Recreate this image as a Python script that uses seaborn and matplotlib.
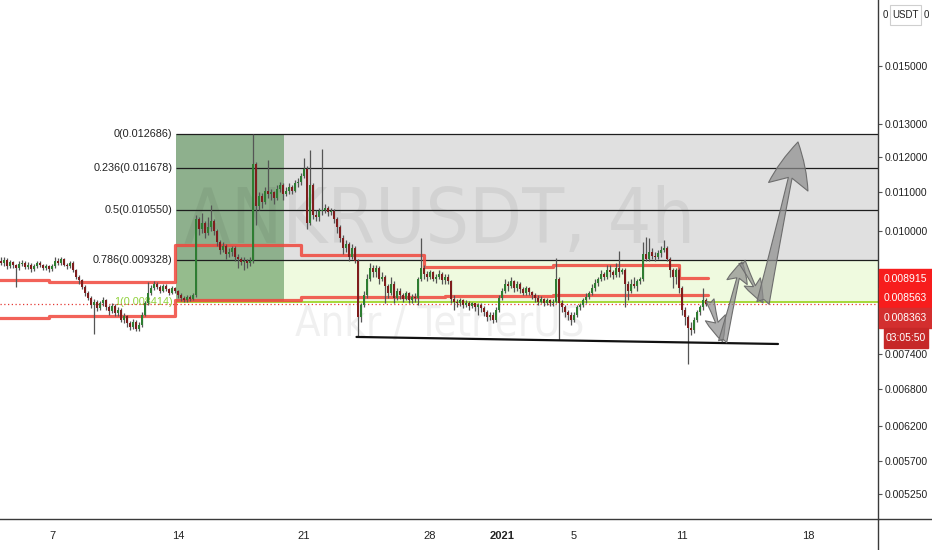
import numpy as np
import pandas as pd
import matplotlib
matplotlib.use("Agg")
import matplotlib.pyplot as plt
import matplotlib.dates as mdates
from matplotlib.patches import Rectangle, FancyArrowPatch
from matplotlib.lines import Line2D
from matplotlib.ticker import NullLocator, NullFormatter
import seaborn as sns

# ---------------- data ----------------
PRICE_UNIT = 1e-6  # candle values are written in micro-USDT
candle_start = "2020-12-04 04:00"   # 4h candles

opens = [9300, 9250, 9320, 9180, 9280, 9200, 9150,
         9230, 9260, 9170, 9220, 9120, 9180, 9250, 9200, 9140, 9190,
         9110, 9180, 9300, 9250, 9340, 9220, 9180, 9260,
         9100, 8950, 8870, 8720,
         8600, 8500, 8350, 8420, 8280, 8380, 8450, 8300,
         8220, 8330, 8180, 8250, 8050, 8120, 7980, 7920, 8010, 7880,
         7950, 8150, 8380, 8600,
         8700, 8800, 8720, 8650, 8750, 8680, 8600, 8700,
         8640, 8560, 8500, 8450, 8520, 8480,
         8550,
         10300, 10050, 10200, 9950, 10100, 10250,
         10000, 9750, 9550, 9650, 9450, 9500, 9600,
         9400, 9350, 9280, 9300, 9250,
         9300, 11800,
         10650, 10900, 10750, 11050, 10950, 11000, 10850, 11100, 11200, 10950,
         11050, 11150, 11050, 11250, 11300, 11450,
         11650, 10200, 11200,
         10400, 10350, 10500, 10550, 10600, 10480,
         10520, 10300, 10100, 9850, 9600, 9700,
         9400, 9600, 9300, 8100, 8350,
         8550, 8900, 9150,
         9050, 9150, 8900, 8950,
         8750, 8600, 8800, 8500,
         8650, 8550, 8480, 8600, 8450, 8520,
         8500, 8900,
         9150, 9000, 8950, 9050, 8900, 8950, 9000, 8880, 8950,
         8850,
         8480, 8420, 8380, 8450, 8350, 8400, 8320, 8380, 8300, 8350,
         8280, 8200, 8100, 8150,
         8050, 8250, 8500, 8650,
         8800, 8750, 8850, 8700, 8800,
         8680, 8600, 8700,
         8620, 8550, 8500, 8420, 8480, 8400, 8450, 8380,
         8420,
         8900, 8400, 8300, 8200, 8150, 8050,
         8150, 8300, 8350, 8450, 8520, 8600, 8700, 8820,
         8900, 9000, 8950, 9100, 9050, 8980, 9150, 9050,
         9100, 8800,
         8650, 8800, 8750, 8850,
         8900, 9450, 9350, 9500, 9420, 9380, 9480, 9550,
         9600, 9350, 9100,
         8950, 9100,
         8700, 8250, 8100, 7900,
         7850, 8050, 8200,
         8300, 8450]

highs = [9380, 9400, 9360, 9330, 9310, 9240, 9290,
         9330, 9300, 9280, 9250, 9230, 9310, 9290, 9230, 9240, 9220,
         9230, 9380, 9360, 9400, 9370, 9260, 9310, 9290,
         9130, 8990, 8900, 8760,
         8650, 8540, 8470, 8460, 8430, 8520, 8480, 8340,
         8390, 8360, 8300, 8280, 8180, 8150, 8020, 8060, 8040, 8000,
         8200, 8430, 8840, 8760,
         8860, 8840, 8760, 8800, 8790, 8710, 8750, 8730,
         8670, 8600, 8540, 8560, 8560, 8600,
         10400,
         10350, 10450, 10250, 10350, 10670, 10300,
         10050, 9800, 9750, 9700, 9600, 9650, 9650,
         9450, 9400, 9380, 9350, 9400,
         12686, 11850,
         11000, 10980, 11150, 11906, 11100, 11050, 11200, 11300, 11250, 11150,
         11250, 11200, 11350, 11400, 11550, 11980,
         11750, 12200, 11250,
         10550, 10600, 12250, 10700, 10650, 10600,
         10560, 10350, 10150, 9900, 9800, 9750,
         9700, 9650, 9350, 8400, 8650,
         9000, 9250, 9200,
         9200, 9180, 9050, 8980,
         8800, 8950, 8850, 8700,
         8700, 8600, 8650, 8620, 8580, 8600,
         8950, 9845,
         9200, 9080, 9100, 9080, 9000, 9100, 9050, 9000, 9000,
         8880,
         8550, 8480, 8500, 8480, 8450, 8430, 8420, 8400, 8400, 8380,
         8320, 8250, 8200, 8200,
         8300, 8550, 8700, 8900,
         8850, 8950, 8880, 8850, 8830,
         8720, 8750, 8730,
         8650, 8600, 8550, 8530, 8500, 8500, 8480, 8470,
         9376,
         8950, 8450, 8350, 8250, 8200, 8200,
         8350, 8400, 8500, 8600, 8650, 8800, 8900, 8950,
         9100, 9050, 9200, 9200, 9100, 9250, 9537, 9150,
         9150, 8850,
         8900, 8950, 8900, 8950,
         9750, 9870, 9850, 9600, 9500, 9550, 9650, 9800,
         9650, 9400, 9150,
         9150, 9150,
         8750, 8300, 8150, 8000,
         8100, 8250, 8350,
         8714, 8500]

lows = [9200, 9180, 9120, 9150, 9140, 8735, 9100,
        9190, 9120, 9130, 9060, 9080, 9150, 9160, 9090, 9100, 9050,
        9070, 9150, 9200, 9210, 9180, 9120, 9140, 9050,
        8900, 8800, 8680, 8540,
        8450, 8280, 7770, 8220, 8240, 8330, 8240, 8150,
        8180, 8120, 8130, 8000, 7990, 7920, 7860, 7880, 7830, 7840,
        7920, 8120, 8350, 8560,
        8660, 8680, 8600, 8620, 8640, 8560, 8570, 8590,
        8500, 8440, 8414, 8420, 8430, 8450,
        8520,
        9900, 9950, 9850, 9900, 10000, 9900,
        9650, 9450, 9500, 9350, 9380, 9420, 9300,
        9150, 9200, 9100, 9150, 9180,
        9250, 10160,
        10550, 10600, 10700, 10850, 10800, 10700, 10800, 11000, 10800, 10900,
        10950, 10950, 11000, 11150, 11200, 11400,
        10050, 10150, 10300,
        10250, 10250, 10400, 10450, 10380, 10400,
        10200, 9950, 9750, 9450, 9500, 9300,
        9350, 9250, 7733, 8000, 8300,
        8500, 8850, 8950,
        8950, 8800, 8850, 8400,
        8500, 8550, 8380, 8450,
        8480, 8420, 8450, 8400, 8400, 8420,
        8350, 8850,
        8900, 8850, 8900, 8850, 8820, 8900, 8800, 8800, 8780,
        8400,
        8250, 8300, 8330, 8280, 8300, 8250, 8280, 8230, 8150, 8200,
        8120, 8020, 8050, 7990,
        8000, 8200, 8450, 8600,
        8650, 8700, 8620, 8650, 8600,
        8550, 8550, 8550,
        8480, 8420, 8350, 8380, 8330, 8350, 8320, 8330,
        8400,
        7660, 8200, 8100, 8050, 7950, 8000,
        8100, 8250, 8300, 8400, 8480, 8550, 8650, 8750,
        8850, 8880, 8900, 8950, 8900, 8950, 8950, 9000,
        8300, 8450,
        8600, 8700, 8650, 8800,
        8850, 9300, 9300, 9350, 9300, 9350, 9400, 9500,
        9300, 8950, 8700,
        8800, 8600,
        8150, 7950, 7222, 7750,
        7800, 8000, 8150,
        8250, 8330]

closes = [9250, 9320, 9180, 9280, 9200, 9150, 9230,
          9260, 9170, 9220, 9120, 9180, 9250, 9200, 9140, 9190, 9110,
          9180, 9300, 9250, 9340, 9220, 9180, 9260, 9100,
          8950, 8870, 8720, 8600,
          8500, 8350, 8420, 8280, 8380, 8450, 8300, 8220,
          8330, 8180, 8250, 8050, 8120, 7980, 7920, 8010, 7880, 7950,
          8150, 8380, 8600, 8700,
          8800, 8720, 8650, 8750, 8680, 8600, 8700, 8640,
          8560, 8500, 8450, 8520, 8480, 8550,
          10300,
          10050, 10200, 9950, 10100, 10250, 10000,
          9750, 9550, 9650, 9450, 9500, 9600, 9400,
          9350, 9280, 9300, 9250, 9300,
          11800, 10650,
          10900, 10750, 11050, 10950, 11000, 10850, 11100, 11200, 10950, 11050,
          11150, 11050, 11250, 11300, 11450, 11650,
          10200, 11200, 10400,
          10350, 10500, 10550, 10600, 10480, 10520,
          10300, 10100, 9850, 9600, 9700, 9400,
          9600, 9300, 8100, 8350, 8550,
          8900, 9150, 9050,
          9150, 8900, 8950, 8750,
          8600, 8800, 8500, 8650,
          8550, 8480, 8600, 8450, 8520, 8500,
          8900, 9150,
          9000, 8950, 9050, 8900, 8950, 9000, 8880, 8950, 8850,
          8480,
          8420, 8380, 8450, 8350, 8400, 8320, 8380, 8300, 8350, 8280,
          8200, 8100, 8150, 8050,
          8250, 8500, 8650, 8800,
          8750, 8850, 8700, 8800, 8680,
          8600, 8700, 8620,
          8550, 8500, 8420, 8480, 8400, 8450, 8380, 8420,
          8900,
          8400, 8300, 8200, 8150, 8050, 8150,
          8300, 8350, 8450, 8520, 8600, 8700, 8820, 8900,
          9000, 8950, 9100, 9050, 8980, 9150, 9050, 9100,
          8800, 8650,
          8800, 8750, 8850, 8900,
          9450, 9350, 9500, 9420, 9380, 9480, 9550, 9600,
          9350, 9100, 8950,
          9100, 8700,
          8250, 8100, 7900, 7850,
          8050, 8200, 8300,
          8450, 8363]

# channel (step) lines
band_times = ["2020-12-04 00:00", "2020-12-06 20:00", "2020-12-13 20:00", "2020-12-20 20:00",
              "2020-12-27 16:00", "2020-12-28 20:00", "2021-01-03 20:00", "2021-01-10 20:00",
              "2021-01-12 10:00"]
upper_band = [0.008870, 0.008830, 0.009680, 0.009445, 0.009172, 0.009172, 0.009217, 0.008915, 0.008915]
lower_band = [0.008080, 0.008130, 0.008443, 0.008504, 0.008504, 0.008525, 0.008563, 0.008563, 0.008563]

# fibonacci retracement
fib_ratios = ["0", "0.236", "0.5", "0.786", "1"]
fib_prices = [0.012686, 0.011678, 0.010550, 0.009328, 0.008414]
fib_start = "2020-12-13 21:20"
box_end = "2020-12-19 21:20"

# support trendline
trend_times = ["2020-12-23 22:00", "2021-01-16 08:00"]
trend_prices = [0.007720, 0.007588]

# projected path arrows
arrow_times = ["2021-01-12 13:20", "2021-01-13 06:10", "2021-01-14 08:00", "2021-01-15 12:00", "2021-01-17 10:40"]
arrow_prices = [0.008450, 0.007630, 0.009280, 0.008390, 0.012450]

# axes labels
ytick_values = [0.015, 0.013, 0.012, 0.011, 0.010, 0.0074, 0.0068, 0.0062, 0.0057, 0.00525]
ytick_labels = ["0.015000", "0.013000", "0.012000", "0.011000", "0.010000",
                "0.007400", "0.006800", "0.006200", "0.005700", "0.005250"]
xtick_dates = ["2020-12-07", "2020-12-14", "2020-12-21", "2020-12-28",
               "2021-01-01", "2021-01-05", "2021-01-11", "2021-01-18"]
xtick_labels = ["7", "14", "21", "28", "2021", "5", "11", "18"]
price_tags = ["0.008915", "0.008563", "0.008363"]
countdown = "03:05:50"
watermark_title = "ANKRUSDT, 4h"
watermark_sub = "Ankr / TetherUS"

# ---------------- plotting ----------------
sns.set_theme(style="white")
plt.rcParams["font.family"] = ["DejaVu Sans"]
SMALL = ["Liberation Sans", "DejaVu Sans"]

W, H = 932, 550
def fx(x): return x / W
def fy(y): return 1 - y / H
def num(s): return mdates.date2num(pd.to_datetime(s))

fig = plt.figure(figsize=(9.32, 5.5), dpi=100)
ax = fig.add_axes([0, 31 / H, 878 / W, 519 / H])
ax.set_yscale("log")

assert len(opens) == len(highs) == len(lows) == len(closes)
t = mdates.date2num(pd.date_range(candle_start, periods=len(closes), freq="4h").to_pydatetime())
o = np.array(opens) * PRICE_UNIT
h = np.array(highs) * PRICE_UNIT
l = np.array(lows) * PRICE_UNIT
c = np.array(closes) * PRICE_UNIT

dec7 = num("2020-12-07")
x_left, x_right = dec7 - 52 / 18, dec7 + (878 - 52) / 18
fs, be = num(fib_start), num(box_end)

# fib zones
ax.fill_between([fs, x_right], fib_prices[3], fib_prices[0], color="#e0e0e0", lw=0, zorder=0)
ax.fill_between([fs, x_right], fib_prices[4], fib_prices[3], color="#effadf", lw=0, zorder=0)
ax.fill_between([fs, be], fib_prices[4], fib_prices[0], color="#4c8a4a", alpha=0.55, lw=0, zorder=1)
ax.hlines(fib_prices[:4], fs, x_right, colors="#1e1e1e", lw=0.9, zorder=2)
ax.hlines(fib_prices[4], fs, x_right, colors="#a6d93a", lw=1.4, zorder=2)
for r, p in zip(fib_ratios, fib_prices):
    col = "#8fd13a" if r == "1" else "#222222"
    ax.annotate(f"{r}({p:.6f})", xy=(fs, p), xytext=(-2.5, 0), textcoords="offset points",
                ha="right", va="center", fontsize=7.8, color=col, family=SMALL, zorder=2)

# watermark
ax.text(0.501, 0.532, watermark_title, transform=ax.transAxes, ha="center", va="baseline",
        fontsize=55, color="black", alpha=0.06, family=["DejaVu Sans"],
        fontstretch="condensed", zorder=1.5)
ax.text(0.501, 0.352, watermark_sub, transform=ax.transAxes, ha="center", va="baseline",
        fontsize=30, color="black", alpha=0.06, family=["DejaVu Sans"],
        fontstretch="condensed", zorder=1.5)

# current price dotted line
ax.axhline(c[-1], color="#e53935", lw=0.9, ls=(0, (1, 2)), zorder=2)

# channel lines (seaborn)
band_df = pd.DataFrame({"t": [num(s) for s in band_times], "upper": upper_band, "lower": lower_band})
for col in ["upper", "lower"]:
    sns.lineplot(data=band_df, x="t", y=col, drawstyle="steps-post", color="#f0463c",
                 lw=2.3, alpha=0.85, ax=ax, zorder=3, estimator=None)

# candles
up = c >= o
ax.vlines(t, l, h, colors="#555555", lw=0.9, zorder=4)
ax.bar(t, np.abs(c - o), bottom=np.minimum(o, c), width=0.13,
       color=np.where(up, "#2e7d32", "#7f1d1d"), lw=0, zorder=5)

# trendline
ax.plot([num(s) for s in trend_times], trend_prices, color="#111111", lw=1.6, zorder=6)

# arrows
head_len = [18, 15, 17, 33]
head_wid = [15, 15, 13, 29]
tail_wid = [6, 6, 5, 9]
at = [num(s) for s in arrow_times]
for i in range(4):
    arr = FancyArrowPatch((at[i], arrow_prices[i]), (at[i + 1], arrow_prices[i + 1]),
                          arrowstyle=f"fancy,head_length={head_len[i]},head_width={head_wid[i]},tail_width={tail_wid[i]}",
                          mutation_scale=1, fc=(0.55, 0.55, 0.55, 0.7), ec="#6e6e6e", lw=0.8,
                          shrinkA=0, shrinkB=0, zorder=7)
    ax.add_patch(arr)

ax.set_xlim(x_left, x_right)
ax.set_ylim(0.0049412, 0.017631)
ax.set_xlabel("")
ax.set_ylabel("")

# axes styling
for s in ["top", "left"]:
    ax.spines[s].set_visible(False)
for s in ["right", "bottom"]:
    ax.spines[s].set_color("#3a3a3a")
    ax.spines[s].set_linewidth(1.0)
ax.yaxis.tick_right()
ax.yaxis.set_minor_locator(NullLocator())
ax.yaxis.set_minor_formatter(NullFormatter())
ax.set_yticks(ytick_values, labels=ytick_labels, fontsize=7.5, family=SMALL)
ax.tick_params(axis="y", direction="out", length=3, width=0.8, color="#555555", pad=1.5, labelcolor="#222222")
ax.set_xticks([num(s) for s in xtick_dates], labels=xtick_labels, fontsize=8, family=SMALL)
ax.tick_params(axis="x", direction="out", length=3, width=0.8, color="#555555", pad=5.5, labelcolor="#222222")
ax.get_xticklabels()[4].set_fontweight("bold")
ax.grid(False)

# extended axis lines
fig.add_artist(Line2D([fx(878), fx(932)], [fy(519), fy(519)], transform=fig.transFigure, color="#3a3a3a", lw=1))
fig.add_artist(Line2D([fx(878), fx(878)], [fy(519), fy(550)], transform=fig.transFigure, color="#3a3a3a", lw=1))

# price tags
tag_geom = [(879, 932, 269, 288.5, "#f71d1d"), (879, 932, 288.5, 308, "#f71d1d"), (879, 932, 308, 327.5, "#d32f2f")]
for txt, (x0, x1, y0, y1, colr) in zip(price_tags, tag_geom):
    fig.add_artist(Rectangle((fx(x0), fy(y1)), fx(x1) - fx(x0), fy(y0) - fy(y1),
                             transform=fig.transFigure, color=colr, zorder=10))
    fig.text(fx(884), fy((y0 + y1) / 2), txt, color="white", ha="left", va="center",
             fontsize=7.5, family=SMALL, zorder=11)
fig.add_artist(Rectangle((fx(884), fy(347.5)), fx(928) - fx(884), fy(328) - fy(347.5),
                         transform=fig.transFigure, color="#c62828", zorder=10))
fig.text(fx(906), fy(338), countdown, color="white", ha="center", va="center",
         fontsize=7.5, family=SMALL, zorder=11)

# top currency label
fig.text(fx(883), fy(15), "0", ha="left", va="center", fontsize=7, color="#222222", family=SMALL)
fig.add_artist(Rectangle((fx(890), fy(25)), fx(921) - fx(890), fy(5) - fy(25), transform=fig.transFigure,
                         facecolor="white", edgecolor="#cfcfcf", lw=0.8))
fig.text(fx(905.5), fy(15), "USDT", ha="center", va="center", fontsize=7, color="#222222", family=SMALL)
fig.text(fx(924), fy(15), "0", ha="left", va="center", fontsize=7, color="#222222", family=SMALL)

fig.savefig("out.png", dpi=100)
